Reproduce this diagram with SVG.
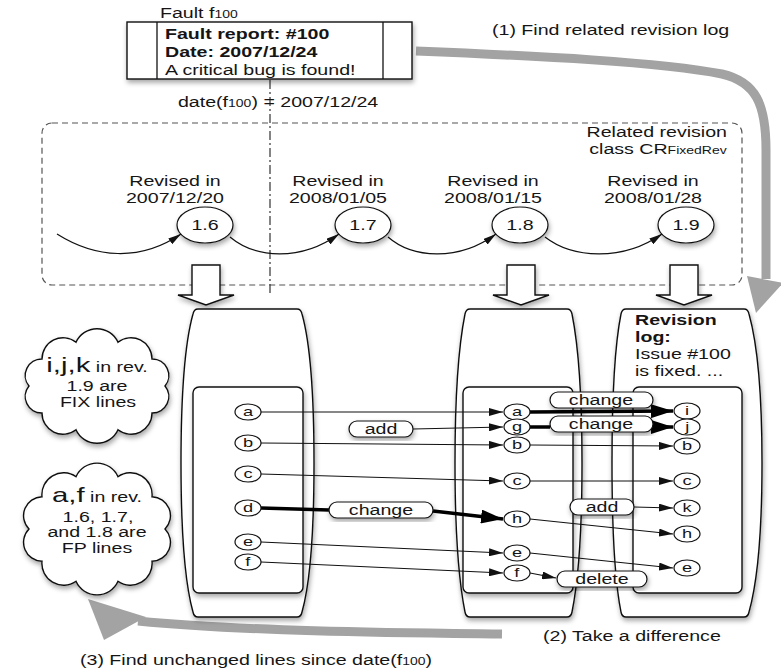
<svg xmlns="http://www.w3.org/2000/svg" width="781" height="671" viewBox="0 0 781 671">
<defs>
<style>
text{font-family:"Liberation Sans",Arial,Helvetica,sans-serif;font-size:14px;fill:#151515;transform-box:fill-box;transform:scaleX(1.4);transform-origin:left center}
.m{text-anchor:middle;transform-origin:center}
.e{text-anchor:end;transform-origin:right center}
.b{font-weight:bold}
.sm{font-size:10px}
.nl{font-size:13px}
.big{font-size:21px}
.shape{fill:#fff;stroke:#111;stroke-width:1.4}
.node{fill:#fff;stroke:#111;stroke-width:1.2}
.ln{fill:none;stroke:#111;stroke-width:1.2}
.thk{fill:none;stroke:#000;stroke-width:3.5}
.gray{fill:none;stroke:#a3a3a3;stroke-width:9}
.grayh{fill:#a3a3a3}
</style>
<filter id="sh" x="-20%" y="-20%" width="140%" height="140%"><feDropShadow dx="1" dy="3" stdDeviation="2.5" flood-color="#000" flood-opacity="0.35"/></filter>
<marker id="ah" markerUnits="userSpaceOnUse" viewBox="0 0 14 8" markerWidth="14" markerHeight="8" refX="14" refY="4" orient="auto"><path d="M0,0 L14,4 L0,8 z" fill="#111"/></marker>
<marker id="ahb" markerUnits="userSpaceOnUse" viewBox="0 0 22 14" markerWidth="22" markerHeight="14" refX="22" refY="7" orient="auto"><path d="M0,0 L22,7 L0,14 z" fill="#000"/></marker>
<marker id="aht" markerUnits="userSpaceOnUse" viewBox="0 0 13 7" markerWidth="13" markerHeight="7" refX="13" refY="3.5" orient="auto"><path d="M0,0 L13,3.5 L0,7 z" fill="#111"/></marker>
</defs>
<rect width="781" height="671" fill="#fff"/>

<g id="revision-class">
<rect x="42" y="123" width="700" height="162" rx="10" fill="none" stroke="#555" stroke-width="1.2" stroke-dasharray="6 4"/>
<text class="e" x="727" y="137">Related revision</text>
<text class="e" x="727" y="154">class CR<tspan class="sm">FixedRev</tspan></text>
</g>

<line x1="270" y1="80" x2="270" y2="293" stroke="#333" stroke-width="1.2" stroke-dasharray="9 3 2 3"/>

<g id="connectors">
<path class="ln" d="M57,234 C95,258 140,262 181,234" marker-end="url(#aht)"/>
<path class="ln" d="M230,237 C255,258 300,262 339,234" marker-end="url(#aht)"/>
<path class="ln" d="M388,237 C412,258 458,262 496,234" marker-end="url(#aht)"/>
<path class="ln" d="M545,237 C572,258 622,262 662,234" marker-end="url(#aht)"/>
<path class="gray" d="M416,51 C540,56 660,62 722,74 C756,82 766,104 766,150 L766,279"/>
<polygon class="grayh" points="747,276 783,283 756,313"/>
<path class="gray" d="M502,634 C420,633 250,632 138,621"/>
<polygon class="grayh" points="88,599 104,640 146,617"/>
</g>

<g id="fault">
<text x="160" y="18">Fault f<tspan class="sm">100</tspan></text>
<rect class="shape" x="127" y="22" width="285" height="57" filter="url(#sh)"/>
<line x1="157" y1="22" x2="157" y2="79" stroke="#111" stroke-width="1.3"/>
<line x1="383" y1="22" x2="383" y2="79" stroke="#111" stroke-width="1.3"/>
<text class="b" x="165" y="39">Fault report: #100</text>
<text class="b" x="165" y="57">Date: 2007/12/24</text>
<text x="165" y="75">A critical bug is found!</text>
<text x="178" y="107">date(f<tspan class="sm">100</tspan>) = 2007/12/24</text>
</g>
<text x="492" y="35">(1) Find related revision log</text>

<g id="rev16">
<text class="m" x="175" y="186">Revised in</text><text class="m" x="175" y="203">2007/12/20</text>
<ellipse class="node" cx="205" cy="225" rx="28" ry="18" filter="url(#sh)"/><text class="m" x="205" y="230">1.6</text>
</g>
<g id="rev17">
<text class="m" x="338" y="186">Revised in</text><text class="m" x="338" y="203">2008/01/05</text>
<ellipse class="node" cx="363" cy="225" rx="28" ry="18" filter="url(#sh)"/><text class="m" x="363" y="230">1.7</text>
</g>
<g id="rev18">
<text class="m" x="493" y="186">Revised in</text><text class="m" x="493" y="203">2008/01/15</text>
<ellipse class="node" cx="520" cy="225" rx="28" ry="18" filter="url(#sh)"/><text class="m" x="520" y="230">1.8</text>
</g>
<g id="rev19">
<text class="m" x="653" y="186">Revised in</text><text class="m" x="653" y="203">2008/01/28</text>
<ellipse class="node" cx="686" cy="225" rx="28" ry="18" filter="url(#sh)"/><text class="m" x="686" y="230">1.9</text>
</g>

<g id="block-arrows" class="shape" filter="url(#sh)">
<polygon points="192,265 220,265 220,295 234,295 206,305 178,295 192,295"/>
<polygon points="507,265 535,265 535,295 549,295 521,305 493,295 507,295"/>
<polygon points="670,265 698,265 698,295 712,295 684,305 656,295 670,295"/>
</g>

<g id="file16">
<path class="shape" filter="url(#sh)" d="M198,309 H297 Q301,309 302,314 C309,339 314,389 314,463 C314,537 309,587 302,612 Q301,617 297,617 H198 Q194,617 193,612 C186,587 181,537 181,463 C181,389 186,339 193,314 Q194,309 198,309 Z"/>
<rect class="shape" filter="url(#sh)" x="193" y="387" width="110" height="206" rx="6"/>
</g>
<g id="file18">
<path class="shape" filter="url(#sh)" d="M470,309 H567 Q571,309 572,314 C577,339 582,389 582,463 C582,537 577,587 572,612 Q571,617 567,617 H470 Q466,617 465,612 C460,587 455,537 455,463 C455,389 460,339 465,314 Q466,309 470,309 Z"/>
<rect class="shape" filter="url(#sh)" x="463" y="387" width="110" height="206" rx="6"/>
</g>
<g id="file19">
<path class="shape" filter="url(#sh)" d="M626,309 H744 Q748,309 749,314 C756,339 762,389 762,463 C762,537 756,587 749,612 Q748,617 744,617 H626 Q622,617 621,612 C616,587 612,537 612,463 C612,389 616,339 621,314 Q622,309 626,309 Z"/>
<rect class="shape" filter="url(#sh)" x="633" y="387" width="109" height="206" rx="6"/>
<text class="b" x="635" y="325">Revision</text>
<text class="b" x="635" y="342">log:</text>
<text x="635" y="359">Issue #100</text>
<text x="635" y="376">is fixed. ...</text>
</g>

<g id="cloud-fix">
<path class="shape" filter="url(#sh)" d="M76,342.3 A23,23 0 0 1 118,342.3 A21,21 0 0 1 152,359 A16.5,16.5 0 0 1 165,386 A16.5,16.5 0 0 1 152,413 A21,21 0 0 1 118,429.7 A23,23 0 0 1 76,429.7 A21,21 0 0 1 42,413 A16.5,16.5 0 0 1 29,386 A16.5,16.5 0 0 1 42,359 A21,21 0 0 1 76,342.3 Z"/>
<text class="m" x="97" y="372"><tspan class="big">i,j,k</tspan> in rev.</text>
<text class="m" x="97" y="391">1.9 are</text>
<text class="m" x="98" y="407">FIX lines</text>
</g>
<g id="cloud-fp">
<path class="shape" filter="url(#sh)" d="M76,476.7 A23,23 0 0 1 118,476.7 A21.7,21.7 0 0 1 152,496.7 A19,19 0 0 1 165,529 A19,19 0 0 1 152,561.3 A21.7,21.7 0 0 1 118,581.3 A23,23 0 0 1 76,581.3 A21.7,21.7 0 0 1 42,561.3 A19,19 0 0 1 29,529 A19,19 0 0 1 42,496.7 A21.7,21.7 0 0 1 76,476.7 Z"/>
<text class="m" x="97" y="502"><tspan class="big">a,f</tspan> in rev.</text>
<text class="m" x="98" y="522">1.6, 1.7,</text>
<text class="m" x="97" y="537">and 1.8 are</text>
<text class="m" x="97" y="553">FP lines</text>
</g>

<g id="diff-lines">
<path class="ln" d="M261,412 L503,412" marker-end="url(#ah)"/>
<path class="ln" d="M413,429 L503,427" marker-end="url(#ah)"/>
<path class="ln" d="M261,443 L503,445" marker-end="url(#ah)"/>
<path class="ln" d="M261,474 L503,481" marker-end="url(#ah)"/>
<path class="thk" d="M261,508 L329,510"/>
<path class="thk" d="M433,511 L503,519" marker-end="url(#ahb)"/>
<path class="ln" d="M261,542 L503,553" marker-end="url(#ah)"/>
<path class="ln" d="M261,562 L503,573" marker-end="url(#ah)"/>
<path class="thk" d="M530,412 L673,411" marker-end="url(#ahb)"/>
<path class="thk" d="M530,427 L550,427"/>
<path class="thk" d="M653,427 L673,427" marker-end="url(#ahb)"/>
<path class="ln" d="M530,445 L673,446" marker-end="url(#ah)"/>
<path class="ln" d="M530,481 L673,481" marker-end="url(#ah)"/>
<path class="ln" d="M634,507 L673,508" marker-end="url(#ah)"/>
<path class="ln" d="M530,519 L673,534" marker-end="url(#ah)"/>
<path class="ln" d="M530,553 L673,568" marker-end="url(#ah)"/>
<path class="ln" d="M530,573 L556,578" marker-end="url(#ah)"/>
</g>

<g id="pills">
<g id="pill-add-1"><rect class="node" filter="url(#sh)" x="349" y="421" width="64" height="16" rx="8"/><text class="m" x="381" y="434">add</text></g>
<g id="pill-change-1"><rect class="node" filter="url(#sh)" x="329" y="502" width="104" height="16" rx="8"/><text class="m" x="381" y="515">change</text></g>
<g id="pill-change-2"><rect class="node" filter="url(#sh)" x="550" y="392" width="103" height="16" rx="8"/><text class="m" x="601" y="405">change</text></g>
<g id="pill-change-3"><rect class="node" filter="url(#sh)" x="550" y="416" width="103" height="16" rx="8"/><text class="m" x="601" y="429">change</text></g>
<g id="pill-add-2"><rect class="node" filter="url(#sh)" x="570" y="499" width="64" height="16" rx="8"/><text class="m" x="602" y="512">add</text></g>
<g id="pill-delete"><rect class="node" filter="url(#sh)" x="557" y="571" width="90" height="16" rx="8"/><text class="m" x="602" y="584">delete</text></g>
</g>

<g id="lines-16">
<g id="l16-a"><ellipse class="node" cx="248" cy="412" rx="13" ry="8"/><text class="m nl" x="248" y="416.5">a</text></g>
<g id="l16-b"><ellipse class="node" cx="248" cy="443" rx="13" ry="8"/><text class="m nl" x="248" y="447.5">b</text></g>
<g id="l16-c"><ellipse class="node" cx="248" cy="474" rx="13" ry="8"/><text class="m nl" x="248" y="478.5">c</text></g>
<g id="l16-d"><ellipse class="node" cx="248" cy="508" rx="13" ry="8"/><text class="m nl" x="248" y="512.5">d</text></g>
<g id="l16-e"><ellipse class="node" cx="248" cy="542" rx="13" ry="8"/><text class="m nl" x="248" y="546.5">e</text></g>
<g id="l16-f"><ellipse class="node" cx="248" cy="562" rx="13" ry="8"/><text class="m nl" x="248" y="566.5">f</text></g>
</g>
<g id="lines-18">
<g id="l18-a"><ellipse class="node" cx="517" cy="412" rx="13" ry="8"/><text class="m nl" x="517" y="416.5">a</text></g>
<g id="l18-g"><ellipse class="node" cx="517" cy="427" rx="13" ry="8"/><text class="m nl" x="517" y="431">g</text></g>
<g id="l18-b"><ellipse class="node" cx="517" cy="445" rx="13" ry="8"/><text class="m nl" x="517" y="449.5">b</text></g>
<g id="l18-c"><ellipse class="node" cx="517" cy="481" rx="13" ry="8"/><text class="m nl" x="517" y="485.5">c</text></g>
<g id="l18-h"><ellipse class="node" cx="517" cy="519" rx="13" ry="8"/><text class="m nl" x="517" y="523.5">h</text></g>
<g id="l18-e"><ellipse class="node" cx="517" cy="553" rx="13" ry="8"/><text class="m nl" x="517" y="557.5">e</text></g>
<g id="l18-f"><ellipse class="node" cx="517" cy="573" rx="13" ry="8"/><text class="m nl" x="517" y="577.5">f</text></g>
</g>
<g id="lines-19">
<g id="l19-i"><ellipse class="node" cx="687" cy="411" rx="13" ry="8"/><text class="m nl" x="687" y="415.5">i</text></g>
<g id="l19-j"><ellipse class="node" cx="687" cy="427" rx="13" ry="8"/><text class="m nl" x="687" y="431">j</text></g>
<g id="l19-b"><ellipse class="node" cx="687" cy="446" rx="13" ry="8"/><text class="m nl" x="687" y="450.5">b</text></g>
<g id="l19-c"><ellipse class="node" cx="687" cy="481" rx="13" ry="8"/><text class="m nl" x="687" y="485.5">c</text></g>
<g id="l19-k"><ellipse class="node" cx="687" cy="508" rx="13" ry="8"/><text class="m nl" x="687" y="512.5">k</text></g>
<g id="l19-h"><ellipse class="node" cx="687" cy="534" rx="13" ry="8"/><text class="m nl" x="687" y="538.5">h</text></g>
<g id="l19-e"><ellipse class="node" cx="687" cy="568" rx="13" ry="8"/><text class="m nl" x="687" y="572.5">e</text></g>
</g>

<text x="543" y="641">(2) Take a difference</text>
<text x="80" y="665">(3) Find unchanged lines since date(f<tspan class="sm">100</tspan>)</text>
</svg>
